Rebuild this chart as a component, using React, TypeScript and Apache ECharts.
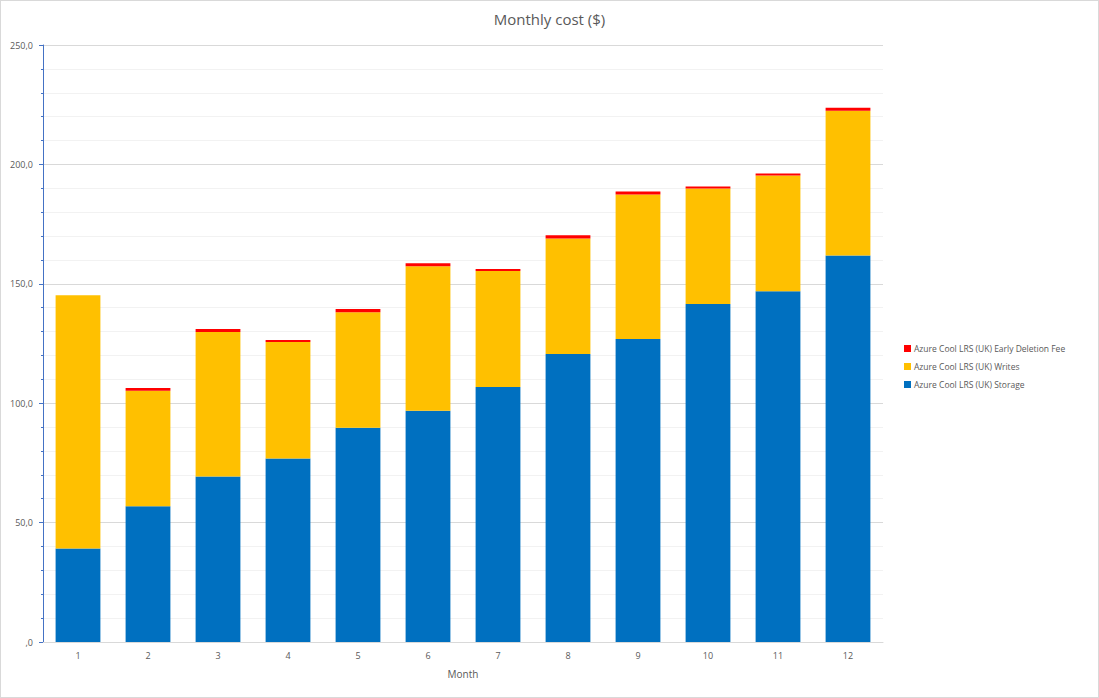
import { useEffect, useRef } from 'react';
import * as echarts from 'echarts';

const months = ['1', '2', '3', '4', '5', '6', '7', '8', '9', '10', '11', '12'];
const storage = [39.2, 56.8, 69.3, 76.8, 89.7, 96.8, 106.8, 120.6, 126.9, 141.5, 146.9, 161.9];
const writes = [106.0, 48.4, 60.5, 48.8, 48.4, 60.5, 48.6, 48.4, 60.5, 48.4, 48.4, 60.6];
const deletionFee = [0, 1.2, 1.3, 0.9, 1.3, 1.3, 0.8, 1.3, 1.2, 0.8, 0.9, 1.2];

const NAME_FEE = 'Azure Cool LRS (UK) Early Deletion Fee';
const NAME_WRITES = 'Azure Cool LRS (UK) Writes';
const NAME_STORAGE = 'Azure Cool LRS (UK) Storage';

const FONT = "'Open Sans', 'Noto Sans', sans-serif";
const TEXT = '#595959';

const fmtTick = (v: number) => (v === 0 ? ',0' : v.toFixed(1).replace('.', ','));

export default function App() {
  const ref = useRef<HTMLDivElement>(null);

  useEffect(() => {
    if (!ref.current) return;
    const chart = echarts.init(ref.current, undefined, { renderer: 'svg' });

    const bar = (name: string, data: number[], color: string) => ({
      name,
      type: 'bar' as const,
      stack: 'cost',
      data,
      barWidth: '64%',
      itemStyle: { color },
    });

    chart.setOption({
      animation: false,
      backgroundColor: '#fff',
      textStyle: { fontFamily: FONT },
      title: {
        text: 'Monthly cost ($)',
        left: 'center',
        top: 5,
        textStyle: { fontSize: 15, fontWeight: 'normal', color: TEXT, fontFamily: FONT },
      },
      legend: {
        orient: 'vertical',
        left: 898,
        top: 338,
        icon: 'rect',
        itemWidth: 7,
        itemHeight: 7,
        itemGap: 9,
        data: [NAME_FEE, NAME_WRITES, NAME_STORAGE],
        textStyle: { fontSize: 8.5, color: TEXT, fontFamily: FONT, padding: [0, 0, 0, -2] },
      },
      grid: { left: 42, right: 215, top: 44, bottom: 55 },
      xAxis: {
        type: 'category',
        data: months,
        name: 'Month',
        nameLocation: 'middle',
        nameGap: 27,
        nameTextStyle: { fontSize: 10, color: TEXT },
        axisLine: { lineStyle: { color: '#d9d9d9' } },
        axisTick: { show: false },
        axisLabel: { fontSize: 9, color: TEXT, margin: 9 },
      },
      yAxis: {
        type: 'value',
        min: 0,
        max: 250,
        interval: 50,
        axisLine: { show: true, lineStyle: { color: '#4472c4', width: 1 } },
        axisTick: { show: true, length: 4, lineStyle: { color: '#4472c4' } },
        minorTick: { show: true, splitNumber: 5, length: 2, lineStyle: { color: '#4472c4' } },
        splitLine: { lineStyle: { color: '#d9d9d9' } },
        minorSplitLine: { show: true, lineStyle: { color: '#f2f2f2' } },
        axisLabel: { fontSize: 9, color: TEXT, margin: 10, formatter: fmtTick },
      },
      series: [
        bar(NAME_STORAGE, storage, '#0070c0'),
        bar(NAME_WRITES, writes, '#ffc000'),
        bar(NAME_FEE, deletionFee, '#ff0000'),
      ],
    });

    return () => chart.dispose();
  }, []);

  return (
    <div
      style={{
        position: 'absolute',
        left: 0,
        top: 0,
        width: 1099,
        height: 698,
        boxSizing: 'border-box',
        border: '1px solid #d9d9d9',
        background: '#fff',
      }}
    >
      <div ref={ref} style={{ width: 1097, height: 696 }} />
    </div>
  );
}
